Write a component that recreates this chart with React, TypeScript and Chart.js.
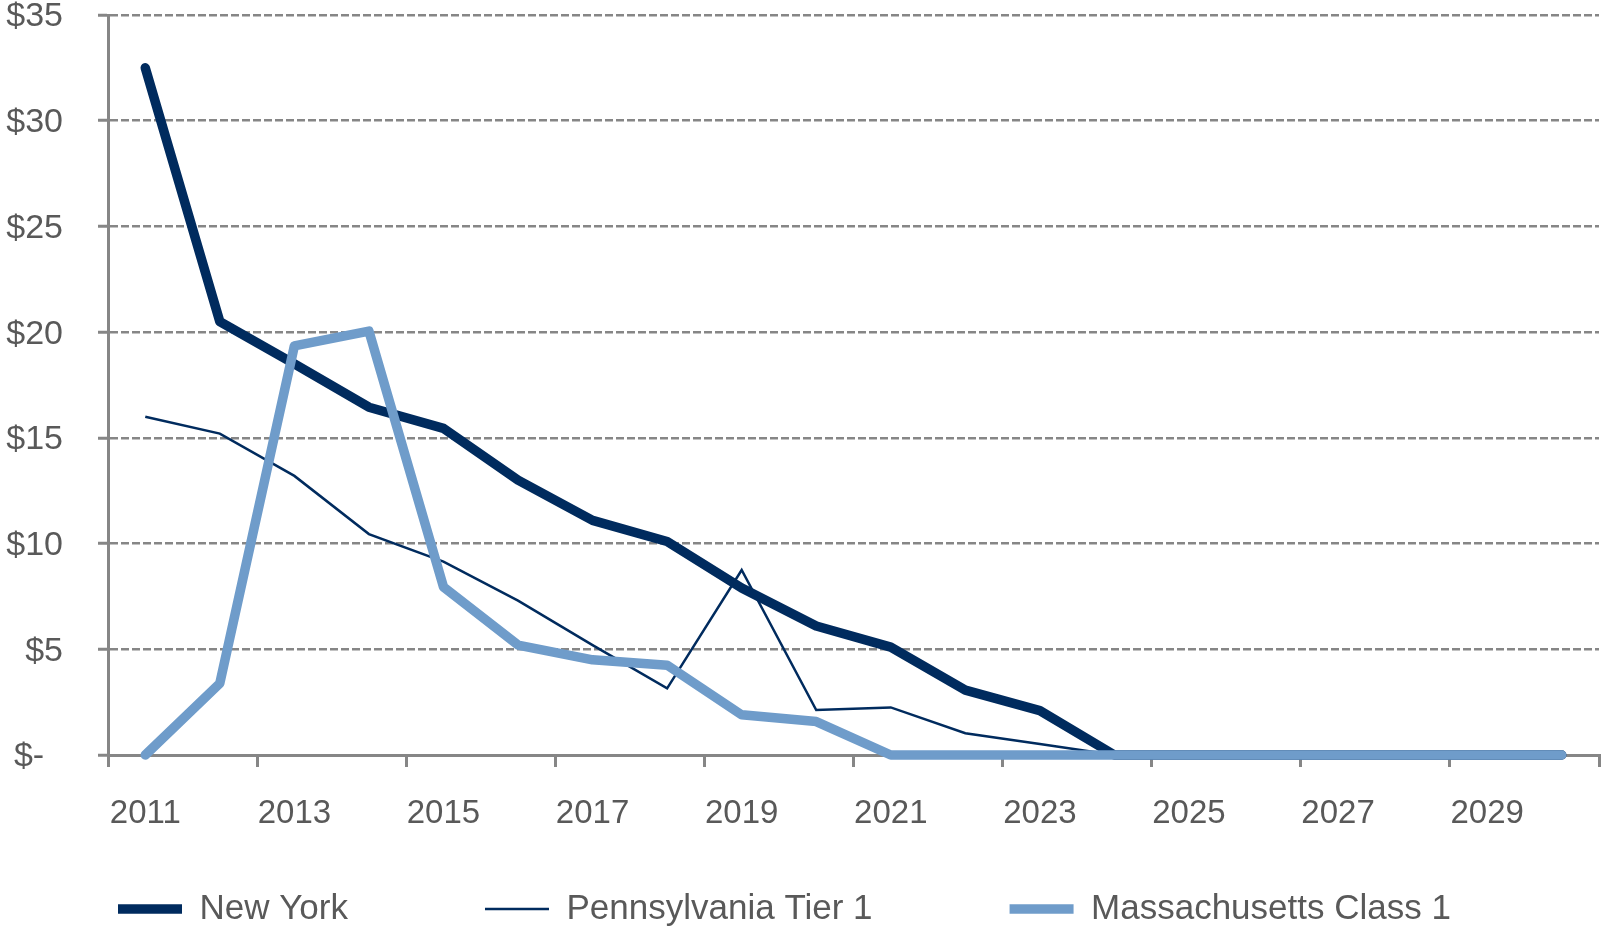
import React, { useEffect, useRef } from "react";
import { Chart, registerables } from "chart.js";

Chart.register(...registerables);

const years = ["2011","2012","2013","2014","2015","2016","2017","2018","2019","2020","2021","2022","2023","2024","2025","2026","2027","2028","2029","2030"];
const newYork = [32.5, 20.5, 18.5, 16.45, 15.45, 13.0, 11.1, 10.1, 7.9, 6.1, 5.1, 3.07, 2.1, 0, 0, 0, 0, 0, 0, 0];
const pennsylvania = [16.0, 15.2, 13.2, 10.45, 9.15, 7.3, 5.2, 3.15, 8.75, 2.13, 2.25, 1.03, 0.52, 0, 0, 0, 0, 0, 0, 0];
const massachusetts = [0, 3.39, 19.35, 20.05, 7.95, 5.2, 4.5, 4.25, 1.9, 1.58, 0, 0, 0, 0, 0, 0, 0, 0, 0, 0];
const yTickLabels = ["$-  ", "$5", "$10", "$15", "$20", "$25", "$30", "$35"];
const seriesNames = ["New York", "Pennsylvania Tier 1", "Massachusetts Class 1"];

const NAVY = "#002B5E";
const LIGHT = "#6F9CCA";
const GRAY = "#868686";
const TEXT = "#595959";
const FONT = "'Liberation Sans', Arial, sans-serif";

const LEGEND_PAD = 137;

const legendPlacer = {
  id: "legendPlacer",
  afterLayout(chart: any) {
    const lg = chart.legend;
    if (!lg) return;
    lg.top = 754.5;
    lg.bottom = 930;
    lg.left = 118 - LEGEND_PAD;
    lg.right = 2400;
  },
};

export default function App() {
  const ref = useRef<HTMLCanvasElement | null>(null);
  useEffect(() => {
    if (!ref.current) return;
    const chart = new Chart(ref.current, {
      type: "line",
      data: {
        labels: years,
        datasets: [
          {
            label: seriesNames[0],
            data: newYork,
            borderColor: NAVY,
            backgroundColor: NAVY,
            borderWidth: 9.5,
            pointRadius: 0,
            borderCapStyle: "round",
            borderJoinStyle: "round",
            tension: 0,
            clip: false,
            order: 2,
          },
          {
            label: seriesNames[1],
            data: pennsylvania,
            borderColor: NAVY,
            backgroundColor: NAVY,
            borderWidth: 2.5,
            pointRadius: 0,
            borderCapStyle: "butt",
            borderJoinStyle: "miter",
            tension: 0,
            clip: false,
            order: 1,
          },
          {
            label: seriesNames[2],
            data: massachusetts,
            borderColor: LIGHT,
            backgroundColor: LIGHT,
            borderWidth: 9.5,
            pointRadius: 0,
            borderCapStyle: "round",
            borderJoinStyle: "round",
            tension: 0,
            clip: false,
            order: 0,
          },
        ],
      },
      options: {
        responsive: false,
        animation: false,
        layout: { padding: { top: 15, right: 3, left: 0, bottom: 0 } },
        plugins: {
          tooltip: { enabled: false },
          legend: {
            position: "bottom",
            align: "start",
            maxHeight: 60,
            labels: {
              usePointStyle: true,
              pointStyle: "line",
              pointStyleWidth: 64,
              padding: LEGEND_PAD,
              color: TEXT,
              font: { family: FONT, size: 35 },
              sort: (a: any, b: any) => a.datasetIndex - b.datasetIndex,
            },
          },
        },
        scales: {
          x: {
            type: "category",
            offset: true,
            grid: {
              display: true,
              drawOnChartArea: false,
              drawTicks: true,
              tickLength: 12,
              offset: true,
              lineWidth: 3,
              color: (c: any) => (c.index === undefined || c.index % 2 === 0 ? GRAY : "rgba(0,0,0,0)"),
            },
            border: { display: true, color: GRAY, width: 3 },
            ticks: {
              autoSkip: false,
              maxRotation: 0,
              minRotation: 0,
              padding: 27,
              color: TEXT,
              font: { family: FONT, size: 33 },
              callback: (_v: any, i: number) => (i % 2 === 0 ? years[i] : ""),
            },
            afterFit: (s: any) => {
              s.height = 115;
              s.paddingLeft = 0;
              s.paddingRight = 0;
            },
          },
          y: {
            min: 0,
            max: 35,
            ticks: {
              stepSize: 5,
              padding: 35,
              labelOffset: 2,
              color: TEXT,
              font: { family: FONT, size: 34 },
              callback: (v: any) => yTickLabels[Math.round(Number(v) / 5)],
            },
            grid: {
              display: true,
              color: GRAY,
              lineWidth: 2.5,
              tickLength: 10,
              tickBorderDash: [],
              tickWidth: 3,
            },
            border: { display: true, color: GRAY, width: 3, dash: [8, 3] },
            afterFit: (s: any) => {
              s.width = 108;
              s.paddingTop = 0;
              s.paddingBottom = 0;
            },
          },
        },
      },
      plugins: [legendPlacer],
    } as any);
    return () => chart.destroy();
  }, []);
  return (
    <div style={{ position: "fixed", left: 0, top: 0, width: 1602, height: 930, background: "#fff" }}>
      <canvas ref={ref} width={1602} height={930} style={{ display: "block" }} />
    </div>
  );
}
